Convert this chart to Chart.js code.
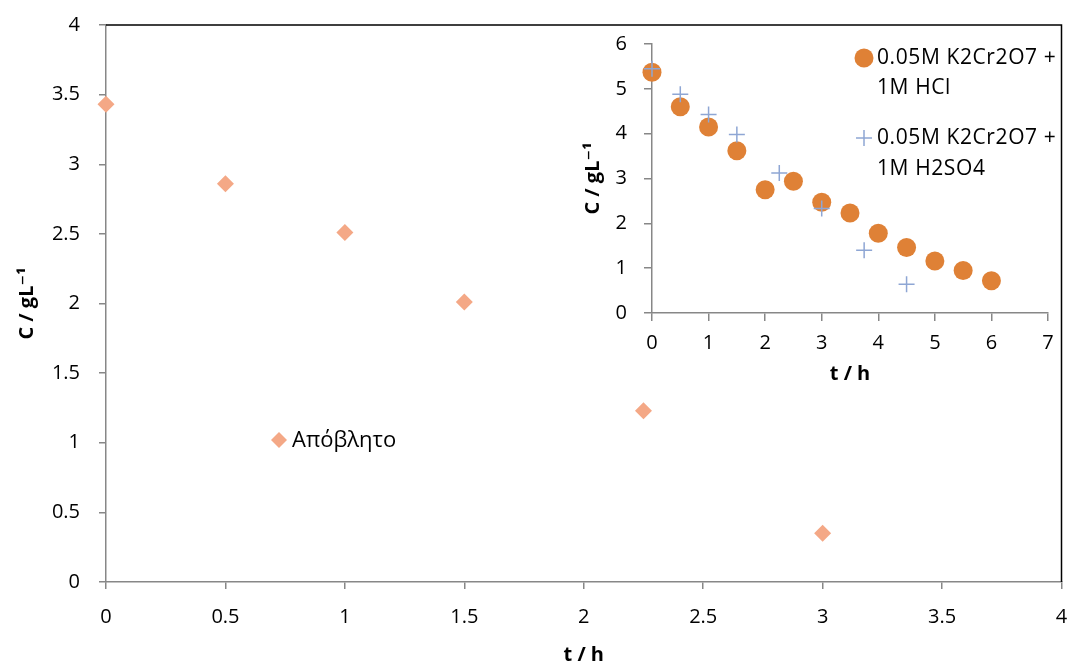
<!DOCTYPE html>
<html>
<head>
<meta charset="utf-8">
<script src="https://cdn.jsdelivr.net/npm/chart.js@4.4.1/dist/chart.umd.min.js"></script>
<style>
  body { margin: 0; background: #fff; }
  #wrap { position: relative; width: 1070px; height: 668px; }
  #main { position: absolute; left: 0; top: 0; }
  #inset { position: absolute; left: 560px; top: 25px; }
</style>
</head>
<body>
<div id="wrap">
  <canvas id="main" width="1070" height="668"></canvas>
  <canvas id="inset" width="505" height="375"></canvas>
</div>
<script>
// Data utama (Απόβλητο)
const wasteT = [0, 0.5, 1, 1.5, 2.25, 3];
const wasteC = [3.43, 2.86, 2.51, 2.01, 1.23, 0.35];

// Data inset
const hclT = [0, 0.5, 1, 1.5, 2, 2.5, 3, 3.5, 4, 4.5, 5, 5.5, 6];
const hclC = [5.37, 4.60, 4.15, 3.62, 2.75, 2.94, 2.47, 2.23, 1.78, 1.46, 1.16, 0.95, 0.72];
const h2so4T = [0, 0.5, 1, 1.5, 2.25, 3, 3.75, 4.5];
const h2so4C = [5.45, 4.88, 4.43, 3.98, 3.12, 2.33, 1.40, 0.64];

const mainXTicks = { min: 0, max: 4, step: 0.5 };
const mainYTicks = { min: 0, max: 4, step: 0.5 };
const insetXTicks = { min: 0, max: 7, step: 1 };
const insetYTicks = { min: 0, max: 6, step: 1 };

const wasteLabel = 'Απόβλητο';
const hclLabel = ['0.05M K2Cr2O7 +', '1M HCl'];
const h2so4Label = ['0.05M K2Cr2O7 +', '1M H2SO4'];

const FONT = "'Open Sans', 'DejaVu Sans', sans-serif";
const AXIS = '#878787';
const WASTE_COLOR = '#F4A886';
const HCL_COLOR = '#DF8136';
const H2SO4_COLOR = '#8EA6D4';

function toPoints(xs, ys) {
    return xs.map((x, i) => ({ x: x, y: ys[i] }));
}

function axis(range, titleText, tickLen, tickPad, titlePad, fitSize, horizontal) {
    return {
        type: 'linear',
        min: range.min,
        max: range.max,
        ticks: {
            stepSize: range.step,
            color: '#000',
            padding: tickPad,
            font: { family: FONT, size: 20 },
            callback: value => String(value)
        },
        grid: {
            drawOnChartArea: false,
            drawTicks: true,
            tickLength: tickLen,
            color: AXIS,
            lineWidth: 1.5
        },
        border: { color: AXIS, width: 1.5 },
        title: {
            display: true,
            text: titleText,
            color: '#000',
            padding: { top: titlePad, bottom: titlePad },
            font: { family: FONT, size: 20, weight: 'bold' }
        },
        afterFit: function (scale) {
            // area plot ditentukan oleh padding layout saja
            scale.paddingLeft = 0;
            scale.paddingRight = 0;
            scale.paddingTop = 0;
            scale.paddingBottom = 0;
            if (horizontal) scale.height = fitSize;
            else scale.width = fitSize;
        }
    };
}

// Garis hitam atas & kanan area plot utama
const frameLines = {
    id: 'frameLines',
    afterDraw(chart) {
        const { ctx, chartArea } = chart;
        ctx.save();
        ctx.strokeStyle = '#000';
        ctx.lineWidth = 1.5;
        ctx.beginPath();
        ctx.moveTo(chartArea.left, chartArea.top);
        ctx.lineTo(chartArea.right, chartArea.top);
        ctx.lineTo(chartArea.right, chartArea.bottom);
        ctx.stroke();
        ctx.restore();
    }
};

// Legenda utama
const mainLegend = {
    id: 'mainLegend',
    afterDraw(chart) {
        const ctx = chart.ctx;
        ctx.save();
        ctx.fillStyle = WASTE_COLOR;
        ctx.beginPath();
        ctx.moveTo(271, 440);
        ctx.lineTo(279, 432);
        ctx.lineTo(287, 440);
        ctx.lineTo(279, 448);
        ctx.closePath();
        ctx.fill();
        ctx.fillStyle = '#000';
        ctx.font = '22px ' + FONT;
        ctx.textBaseline = 'middle';
        ctx.fillText(wasteLabel, 292, 441);
        ctx.restore();
    }
};

// Legenda inset
const insetLegend = {
    id: 'insetLegend',
    afterDraw(chart) {
        const ctx = chart.ctx;
        ctx.save();
        ctx.fillStyle = HCL_COLOR;
        ctx.beginPath();
        ctx.arc(304, 33, 9.5, 0, Math.PI * 2);
        ctx.fill();
        ctx.strokeStyle = H2SO4_COLOR;
        ctx.lineWidth = 1.5;
        ctx.beginPath();
        ctx.moveTo(296, 113); ctx.lineTo(312, 113);
        ctx.moveTo(304, 105); ctx.lineTo(304, 121);
        ctx.stroke();
        ctx.fillStyle = '#000';
        ctx.font = '21px ' + FONT;
        ctx.letterSpacing = '0.6px';
        ctx.textBaseline = 'middle';
        ctx.fillText(hclLabel[0], 317, 33);
        ctx.fillText(hclLabel[1], 317, 63);
        ctx.fillText(h2so4Label[0], 317, 113);
        ctx.fillText(h2so4Label[1], 317, 144);
        ctx.restore();
    }
};

function initializeMainChart() {
    new Chart(document.getElementById('main'), {
        type: 'scatter',
        data: {
            datasets: [{
                label: wasteLabel,
                data: toPoints(wasteT, wasteC),
                pointStyle: 'rectRot',
                pointRadius: 8.5,
                pointHoverRadius: 8.5,
                backgroundColor: WASTE_COLOR,
                borderColor: WASTE_COLOR,
                borderWidth: 0,
                clip: false
            }]
        },
        options: {
            responsive: false,
            animation: false,
            layout: { padding: { top: 25, right: 8, left: 0, bottom: 0 } },
            plugins: { legend: { display: false }, tooltip: { enabled: false } },
            scales: {
                x: axis(mainXTicks, 't / h', 7, 16, 1, 86, true),
                y: axis(mainYTicks, 'C / gL⁻¹', 7, 19, 15, 106, false)
            }
        },
        plugins: [frameLines, mainLegend]
    });
}

function initializeInsetChart() {
    new Chart(document.getElementById('inset'), {
        type: 'scatter',
        data: {
            datasets: [{
                label: hclLabel.join(' '),
                data: toPoints(hclT, hclC),
                pointStyle: 'circle',
                pointRadius: 9.5,
                pointHoverRadius: 9.5,
                backgroundColor: HCL_COLOR,
                borderColor: HCL_COLOR,
                borderWidth: 0,
                clip: false,
                order: 1
            }, {
                label: h2so4Label.join(' '),
                data: toPoints(h2so4T, h2so4C),
                pointStyle: 'cross',
                pointRadius: 8,
                pointHoverRadius: 8,
                backgroundColor: H2SO4_COLOR,
                borderColor: H2SO4_COLOR,
                borderWidth: 1.5,
                clip: false,
                order: 0
            }]
        },
        options: {
            responsive: false,
            animation: false,
            layout: { padding: { top: 19, right: 17, left: 0, bottom: 0 } },
            plugins: { legend: { display: false }, tooltip: { enabled: false } },
            scales: {
                x: axis(insetXTicks, 't / h', 8, 10, 14, 87, true),
                y: axis(insetYTicks, 'C / gL⁻¹', 8, 17, 21, 92, false)
            }
        },
        plugins: [insetLegend]
    });
}

window.addEventListener('load', () => {
    initializeMainChart();
    initializeInsetChart();
});
</script>
</body>
</html>
